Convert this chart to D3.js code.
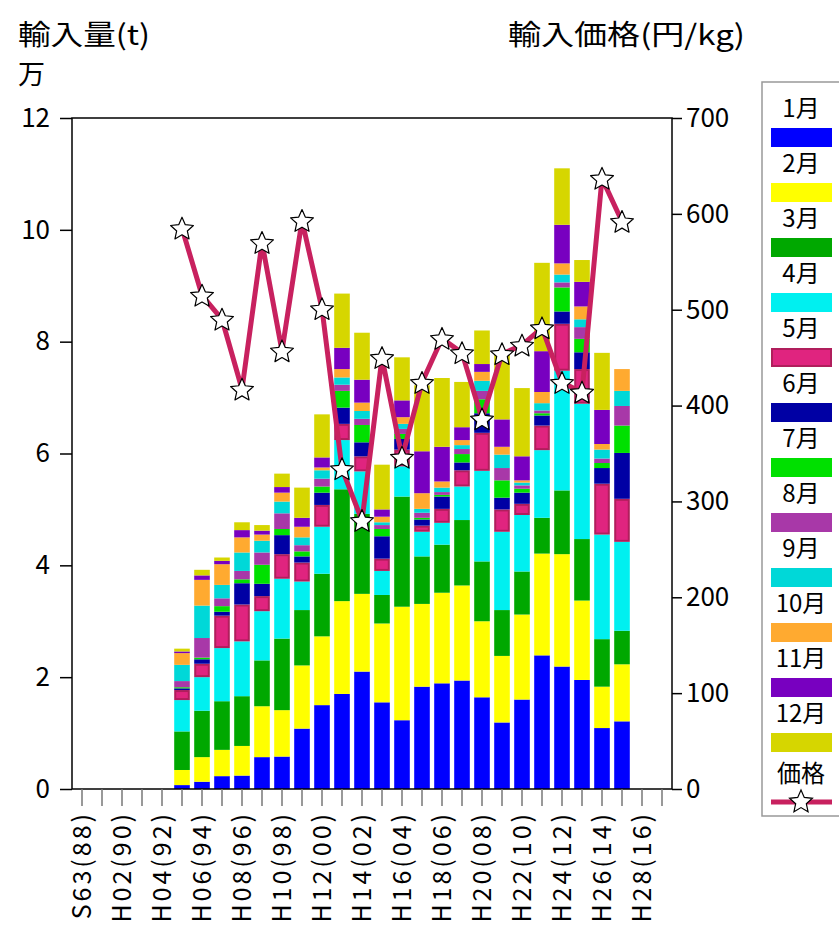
<!DOCTYPE html>
<html>
<head>
<meta charset="utf-8">
<script src="https://cdn.jsdelivr.net/npm/d3@7/dist/d3.min.js"></script>
<style>
  body { margin: 0; background: #fff; }
  svg { display: block; font-family: "Noto Sans CJK JP", "Noto Sans", sans-serif; }
</style>
</head>
<body>
<svg id="chart" width="839" height="937"></svg>
<script>
// ---- data (units: 10,000 t ; price: yen/kg) ----
const categories = d3.range(1988, 2018);            // x categories (years)
const xLabels = ["S63(88)","H02(90)","H04(92)","H06(94)","H08(96)","H10(98)","H12(00)","H14(02)",
                 "H16(04)","H18(06)","H20(08)","H22(10)","H24(12)","H26(14)","H28(16)"];
const dataYears = d3.range(1993, 2016);
const months = ["1月","2月","3月","4月","5月","6月","7月","8月","9月","10月","11月","12月"];
const m1  = [0.07,0.13,0.23,0.24,0.57,0.58,1.08,1.50,1.70,2.10,1.55,1.23,1.83,1.89,1.94,1.64,1.19,1.60,2.39,2.19,1.95,1.09,1.21];
const m2  = [0.27,0.44,0.47,0.53,0.91,0.83,1.13,1.23,1.66,1.39,1.41,2.03,1.48,1.62,1.70,1.36,1.19,1.52,1.82,2.01,1.42,0.74,1.02];
const m3  = [0.69,0.83,0.87,0.89,0.82,1.28,0.99,1.12,2.00,1.43,0.51,1.97,0.85,0.86,1.17,1.07,0.82,0.77,0.64,1.14,1.10,0.85,0.60];
const m4  = [0.56,0.60,0.95,0.98,0.88,1.07,0.51,0.84,0.88,0.76,0.43,0.54,0.44,0.39,0.60,1.62,1.40,1.01,1.21,2.14,2.42,1.87,1.59];
const m5  = [0.18,0.24,0.58,0.66,0.27,0.44,0.34,0.39,0.29,0.27,0.22,0.30,0.11,0.25,0.29,0.68,0.40,0.20,0.44,0.84,0.62,0.91,0.77];
const m6  = [0.03,0.08,0.07,0.38,0.22,0.34,0.11,0.22,0.29,0.25,0.40,0.19,0.11,0.22,0.14,0.35,0.21,0.20,0.18,0.22,0.30,0.28,0.82];
const m7  = [0.02,0.03,0.10,0.07,0.34,0.11,0.09,0.11,0.30,0.31,0.13,0.09,0.03,0.03,0.15,0.25,0.31,0.07,0.04,0.43,0.24,0.09,0.49];
const m8  = [0.11,0.35,0.14,0.15,0.22,0.28,0.11,0.14,0.11,0.11,0.07,0.09,0.09,0.05,0.09,0.15,0.22,0.06,0.05,0.09,0.21,0.08,0.35];
const m9  = [0.29,0.58,0.24,0.33,0.21,0.21,0.14,0.15,0.13,0.14,0.05,0.09,0.07,0.08,0.07,0.18,0.24,0.05,0.13,0.14,0.14,0.16,0.27];
const m10 = [0.21,0.46,0.37,0.27,0.11,0.16,0.19,0.05,0.15,0.15,0.10,0.12,0.28,0.11,0.09,0.16,0.14,0.04,0.20,0.20,0.23,0.10,0.39];
const m11 = [0.03,0.08,0.06,0.13,0.07,0.10,0.16,0.18,0.38,0.41,0.13,0.30,0.75,0.62,0.23,0.14,0.49,0.43,0.73,0.69,0.44,0.61,null];
const m12 = [0.05,0.10,0.06,0.14,0.10,0.24,0.54,0.77,0.97,0.84,0.80,0.77,1.18,1.23,0.81,0.60,1.18,1.22,1.58,1.01,0.39,1.02,null];
const price = [585,515,490,417,570,457,593,501,334,280,450,346,424,470,455,386,454,463,481,424,414,637,592];
const leftTicks = [0,2,4,6,8,10,12];
const rightTicks = [0,100,200,300,400,500,600,700];

// ---- styles ----
const colors = ["#0000ff","#ffff00","#00a800","#00f0f0","#e0247f","#0000a4",
                "#00e000","#a838a8","#00d8d8","#ffaa30","#7800c0","#d6d600"];
const strokes = {4: "#b01e5c"};
const lineColor = "#c8215f";

const monthSeries = [m1,m2,m3,m4,m5,m6,m7,m8,m9,m10,m11,m12];
const table = dataYears.map((yr, i) => {
  const row = {year: yr};
  monthSeries.forEach((s, k) => { row[k] = s[i] == null ? 0 : s[i]; });
  return row;
});

const svg = d3.select("#chart");
const L = 72, R = 672, T = 118, B = 789;

const x = d3.scaleBand().domain(categories).range([L, R]).paddingInner(0.22).paddingOuter(0.11);
const y = d3.scaleLinear().domain([0, 12]).range([B, T]);
const y2 = d3.scaleLinear().domain([0, 700]).range([B, T]);

const series = d3.stack().keys(d3.range(12))(table);

// bars
const g = svg.append("g");
series.forEach((s, k) => {
  const inset = strokes[k] ? 1 : 0;
  g.selectAll(null).data(s.filter(d => d[1] - d[0] > 0)).enter().append("rect")
    .attr("x", d => x(d.data.year) + inset)
    .attr("width", x.bandwidth() - 2 * inset)
    .attr("y", d => y(d[1]) + inset)
    .attr("height", d => Math.max(0, y(d[0]) - y(d[1]) - 2 * inset))
    .attr("fill", colors[k])
    .attr("stroke", strokes[k] || "none")
    .attr("stroke-width", strokes[k] ? 2 : 0);
});

// frame
svg.append("rect").attr("x", L).attr("y", T).attr("width", R - L).attr("height", B - T)
  .attr("fill", "none").attr("stroke", "#000").attr("stroke-width", 1.5);

// left axis
const ax = svg.append("g").attr("transform", `translate(${L},0)`)
  .call(d3.axisLeft(y).tickValues(leftTicks).tickSize(12).tickPadding(10).tickFormat(d3.format("d")));
ax.select(".domain").remove();
ax.selectAll("line").attr("stroke", "#000").attr("stroke-width", 1.5);
ax.selectAll("text").attr("font-size", 26).attr("fill", "#000").attr("font-family", "Noto Sans CJK JP");

// right axis
const ax2 = svg.append("g").attr("transform", `translate(${R},0)`)
  .call(d3.axisRight(y2).tickValues(rightTicks).tickSize(10).tickPadding(4).tickFormat(d3.format("d")));
ax2.select(".domain").remove();
ax2.selectAll("line").attr("stroke", "#000").attr("stroke-width", 1.5);
ax2.selectAll("text").attr("font-size", 26).attr("fill", "#000").attr("font-family", "Noto Sans CJK JP");

// bottom axis
const labelMap = new Map(categories.filter(c => c % 2 === 0).map((c, i) => [c, xLabels[i]]));
const axb = svg.append("g").attr("transform", `translate(0,${B})`)
  .call(d3.axisBottom(x).tickSize(17).tickFormat(d => labelMap.get(d) || ""));
axb.select(".domain").remove();
axb.selectAll("line").attr("stroke", "#777").attr("stroke-width", 1.5);
axb.selectAll("text")
  .attr("font-size", 25).attr("fill", "#000").attr("font-family", "Noto Sans CJK JP")
  .attr("text-anchor", "end")
  .attr("transform", "rotate(-90)")
  .attr("x", -22).attr("y", 0).attr("dy", "0.36em")
  .attr("letter-spacing", 3);

// price line
const line = d3.line().x((d, i) => x(dataYears[i]) + x.bandwidth() / 2).y(d => y2(d));
svg.append("path").datum(price).attr("d", line)
  .attr("fill", "none").attr("stroke", lineColor).attr("stroke-width", 5)
  .attr("stroke-linejoin", "round");

function starPath(ro, ri) {
  const pts = [];
  for (let i = 0; i < 10; i++) {
    const a = -Math.PI / 2 + i * Math.PI / 5;
    const r = i % 2 === 0 ? ro : ri;
    pts.push([r * Math.cos(a), r * Math.sin(a)]);
  }
  return d3.line()(pts) + "Z";
}
const star = starPath(12, 5.6);
svg.selectAll(".star").data(price).enter().append("path")
  .attr("d", star)
  .attr("transform", (d, i) => `translate(${x(dataYears[i]) + x.bandwidth() / 2},${y2(d) + 1})`)
  .attr("fill", "#fff").attr("stroke", "#000").attr("stroke-width", 1.2)
  .attr("stroke-linejoin", "round");

// titles
svg.append("text").attr("x", 18).attr("y", 45).attr("font-size", 28)
  .attr("textLength", 132).attr("lengthAdjust", "spacingAndGlyphs").text("輸入量(t)");
svg.append("text").attr("x", 18).attr("y", 84).attr("font-size", 27).text("万");
svg.append("text").attr("x", 508).attr("y", 45).attr("font-size", 28)
  .attr("textLength", 237).attr("lengthAdjust", "spacingAndGlyphs").text("輸入価格(円/kg)");

// legend
const lg = svg.append("g");
lg.append("rect").attr("x", 762).attr("y", 82).attr("width", 100).attr("height", 734)
  .attr("fill", "#fff").attr("stroke", "#999").attr("stroke-width", 1.5);
months.forEach((m, k) => {
  lg.append("text").attr("x", 801).attr("y", 117 + 55 * k).attr("text-anchor", "middle")
    .attr("font-size", 24).text(m);
  const ins = strokes[k] ? 1 : 0;
  lg.append("rect").attr("x", 771 + ins).attr("y", 128 + 55 * k + ins)
    .attr("width", 61 - 2 * ins).attr("height", 19 - 2 * ins)
    .attr("fill", colors[k]).attr("stroke", strokes[k] || "none").attr("stroke-width", strokes[k] ? 2 : 0);
});
lg.append("text").attr("x", 801).attr("y", 782).attr("text-anchor", "middle").attr("font-size", 24).text("価格");
lg.append("line").attr("x1", 771).attr("x2", 832).attr("y1", 802).attr("y2", 802)
  .attr("stroke", lineColor).attr("stroke-width", 5);
lg.append("path").attr("d", star).attr("transform", "translate(801,802)")
  .attr("fill", "#fff").attr("stroke", "#000").attr("stroke-width", 1.2);
</script>
</body>
</html>
